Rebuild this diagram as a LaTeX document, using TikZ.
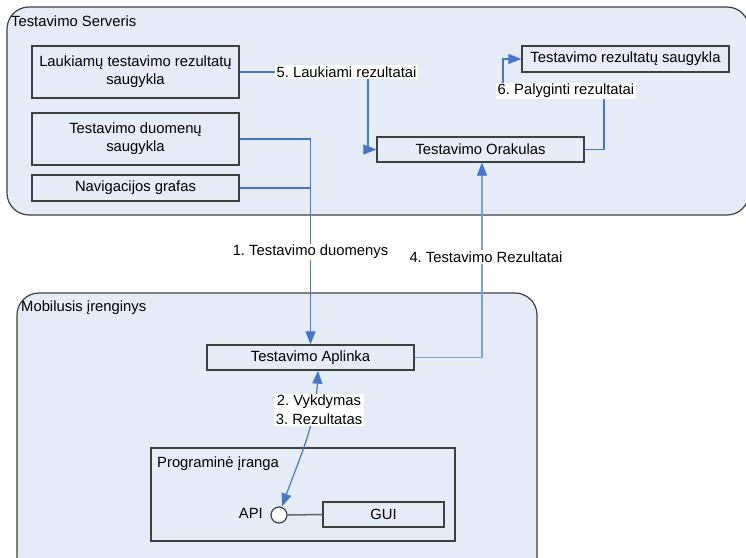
\documentclass[tikz,border=0pt]{standalone}
\usepackage{fontspec}
\setmainfont{Liberation Sans}
\frenchspacing
\usetikzlibrary{arrows.meta}
\definecolor{panel}{RGB}{230,236,247}
\definecolor{edge}{RGB}{64,64,64}
\definecolor{flow}{RGB}{70,118,200}
\definecolor{flowlight}{RGB}{120,160,222}
\tikzset{
  x=1pt, y=-1pt,
  container/.style={draw=edge, line width=1.2pt, fill=panel, rounded corners=22pt},
  store/.style={draw=edge, line width=1.3pt, fill=panel, inner sep=0pt, align=center,
    font=\fontsize{14.8}{18}\selectfont},
  title/.style={anchor=west, inner sep=0pt, font=\fontsize{14.8}{18}\selectfont},
  conn/.style={draw=flow, line width=1.2pt},
  head/.tip={Triangle[length=13pt,width=10pt,color=flow]},
  tip/.style={-head},
  lbl/.style={fill=white, inner sep=1.5pt, align=center, font=\fontsize{14.8}{19}\selectfont}
}
\begin{document}
\begin{tikzpicture}
\clip (0,0) rectangle (746,557);
\fill[white] (0,0) rectangle (746,557);

% server and device containers
\path[container] (7,7) rectangle (749,215);
\path[container] (17,293) rectangle (537,580);
\node[title] (srvtitle) at (11,21) {Testavimo Serveris};
\node[title] (mobtitle) at (21,308) {Mobilusis įrenginys};

% server side stores
\node[store, minimum width=207pt, minimum height=52pt] (lauk) at (135.5,72)
  {Laukiamų testavimo rezultatų\\saugykla};
\node[store, minimum width=207pt, minimum height=52pt] (duom) at (135.5,139)
  {Testavimo duomenų\\saugykla};
\node[store, minimum width=207pt, minimum height=26pt] (nav) at (135.5,188)
  {Navigacijos grafas};
\node[store, minimum width=207pt, minimum height=25pt] (orak) at (480.5,149.5)
  {Testavimo Orakulas};
\node[store, minimum width=207pt, minimum height=26pt] (rezs) at (625.5,59)
  {Testavimo rezultatų saugykla};

% device side
\node[store, minimum width=207pt, minimum height=25pt] (aplinka) at (310.5,357.5)
  {Testavimo Aplinka};
\node[store, minimum width=304pt, minimum height=93pt] (prog) at (303,494.5) {};
\node[title] (progtitle) at (157,464) {Programinė įranga};
\node[store, minimum width=121pt, minimum height=25pt] (gui) at (383.5,514.5) {GUI};
\node[draw=edge, line width=1.2pt, fill=white, circle, minimum size=16pt, inner sep=0pt]
  (api) at (279,515) {};
\node[title, anchor=east] (apilbl) at (263,513) {API};
\draw[draw=edge!80, line width=1.5pt] (api.east) -- (gui.west);

% 1. test data flow
\draw[conn] (nav.east) -- (nav.east -| aplinka.north);
\draw[conn, tip] (duom.east) -| (aplinka.north);
\node[lbl] (l1) at (310.5,252) {1. Testavimo duomenys};

% 4. results flow
\draw[conn, draw=flowlight, tip] (aplinka.east) -| ([xshift=1.5pt]orak.south);
\node[lbl] (l4) at (486,257) {4. Testavimo Rezultatai};

% 5. expected results
\draw[conn, tip] (lauk.east) -- (368,72) |- (orak.west);
\node[lbl] (l5) at (346.5,72) {5. Laukiami rezultatai};

% 6. compared results
\draw[conn, tip] (orak.east) -- (604,149.5) -- (604,91) -- (503,91) |- (rezs.west);
\node[lbl] (l6) at (566,91) {6. Palyginti rezultatai};

% 2./3. execution and result
\draw[conn, head-head]
  ([xshift=3pt]api.north) to[out=70,in=-93] ([xshift=7.5pt]aplinka.south);
\node[lbl] (l23) at (319,410) {2. Vykdymas\\3. Rezultatas};
\end{tikzpicture}
\end{document}
